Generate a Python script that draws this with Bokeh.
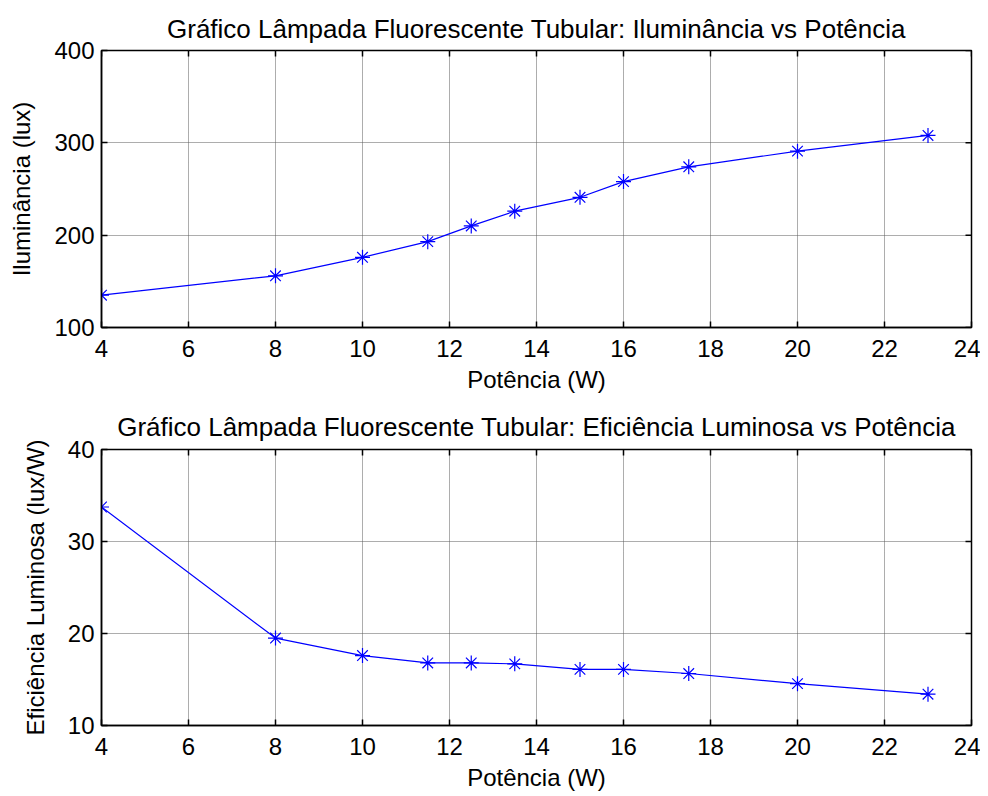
from bokeh.plotting import figure
from bokeh.models import FixedTicker, Range1d
from bokeh.layouts import column
from bokeh.embed import file_html
from bokeh.resources import INLINE

# Data
potencia = [4, 8, 10, 11.5, 12.5, 13.5, 15, 16, 17.5, 20, 23]
iluminancia = [135, 156, 176, 193, 210, 226, 241, 258, 274, 291, 308]
eficiencia = [33.75, 19.5, 17.6, 16.8, 16.8, 16.7, 16.1, 16.1, 15.65, 14.55, 13.4]

x_ticks = [4, 6, 8, 10, 12, 14, 16, 18, 20, 22, 24]
y1_ticks = [100, 200, 300, 400]
y2_ticks = [10, 20, 30, 40]

titles = ["Gráfico Lâmpada Fluorescente Tubular: Iluminância vs Potência",
          "Gráfico Lâmpada Fluorescente Tubular: Eficiência Luminosa vs Potência"]
ylabels = ["Iluminância (lux)", "Eficiência Luminosa (lux/W)"]
xlabel = "Potência (W)"

FONT = "Liberation Sans"
BLUE = "#0000ff"
FRAME_W = 870
FRAME_H = 277
TICK_PX = 6


def style_axis(ax):
    ax.axis_line_color = "black"
    ax.axis_line_width = 1.5
    ax.major_tick_in = TICK_PX
    ax.major_tick_out = 0
    ax.major_tick_line_color = "black"
    ax.major_tick_line_width = 1.5
    ax.minor_tick_line_color = None
    ax.major_label_text_font = FONT
    ax.major_label_text_font_size = "24px"
    ax.major_label_text_color = "black"
    ax.axis_label_text_font = FONT
    ax.axis_label_text_font_size = "24px"
    ax.axis_label_text_font_style = "normal"
    ax.axis_label_text_color = "black"


def make(yvals, yrange, yticks, title, ylabel, height, top, bottom, standoff):
    x0, x1 = 4, 24
    y0, y1 = yrange
    p = figure(width=980, height=height, output_backend="svg",
               toolbar_location=None,
               x_range=Range1d(x0, x1), y_range=Range1d(y0, y1),
               min_border_left=101, min_border_right=9,
               min_border_top=top, min_border_bottom=bottom)
    p.title.text = title
    p.title.text_font = FONT
    p.title.text_font_size = "26px"
    p.title.text_font_style = "normal"
    p.title.align = "center"
    p.title.text_color = "black"
    p.title.standoff = standoff
    p.outline_line_color = "black"
    p.outline_line_width = 1.5
    p.background_fill_color = "white"
    p.border_fill_color = "white"

    p.xaxis.ticker = FixedTicker(ticks=x_ticks)
    p.yaxis.ticker = FixedTicker(ticks=yticks)
    p.xaxis.axis_label = xlabel
    p.yaxis.axis_label = ylabel
    style_axis(p.xaxis[0])
    style_axis(p.yaxis[0])
    p.xaxis.major_label_standoff = 12
    p.xaxis.axis_label_standoff = 6
    p.yaxis.major_label_standoff = 7
    p.yaxis.axis_label_standoff = 16

    for g in (p.xgrid[0], p.ygrid[0]):
        g.grid_line_color = "#5a5a5a"
        g.grid_line_dash = "1 1"
        g.grid_line_width = 1

    # inward ticks on the top and right edges of the box (MATLAB "box on")
    ly = (y1 - y0) * TICK_PX / FRAME_H
    lx = (x1 - x0) * TICK_PX / FRAME_W
    p.segment(x0=x_ticks, y0=[y1] * len(x_ticks), x1=x_ticks,
              y1=[y1 - ly] * len(x_ticks), line_color="black", line_width=1.5)
    p.segment(x0=[x1] * len(yticks), y0=yticks, x1=[x1 - lx] * len(yticks),
              y1=yticks, line_color="black", line_width=1.5)

    p.line(potencia, yvals, line_color=BLUE, line_width=1.2)
    p.scatter(potencia, yvals, marker="asterisk", size=15,
              line_color=BLUE, line_width=1.2)
    return p


p1 = make(iluminancia, (100, 400), y1_ticks, titles[0], ylabels[0], 398, 50, 71, 14)
p2 = make(eficiencia, (10, 40), y2_ticks, titles[1], ylabels[1], 398, 51, 71, 15)

layout = column(p1, p2, spacing=0)
open("out.html", "w").write(file_html(layout, INLINE))
